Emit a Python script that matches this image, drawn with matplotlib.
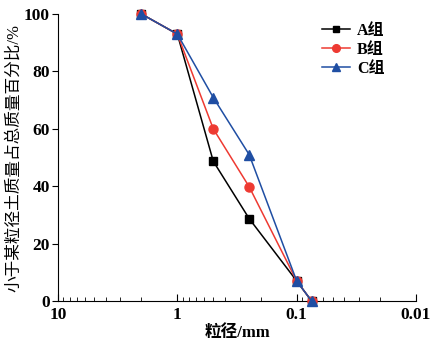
import matplotlib
matplotlib.use("Agg")
import matplotlib.pyplot as plt
from matplotlib.ticker import FixedLocator, LogLocator, NullFormatter

sizes = [2, 1, 0.5, 0.25, 0.1, 0.075]
group_a = [100, 93, 48.7, 28.7, 7.0, 0]
group_b = [100, 93, 60.0, 39.8, 7.0, 0]
group_c = [100, 93, 70.9, 51.0, 7.0, 0]
labels = ["A组", "B组", "C组"]
xticks = [10, 1, 0.1, 0.01]
xtick_labels = ["10", "1", "0.1", "0.01"]
yticks = [0, 20, 40, 60, 80, 100]

fam = ["Liberation Serif", "Noto Sans CJK SC"]
plt.rcParams['font.family'] = fam

fig = plt.figure(figsize=(4.43, 3.5), dpi=100)
ax = fig.add_axes([0.131, 0.14, 0.808, 0.82])

ax.plot(sizes, group_a, color="black", marker="s", markersize=5.5, lw=1.1, label=labels[0], clip_on=False, zorder=3)
ax.plot(sizes, group_b, color="#ee3a32", marker="o", markersize=6.5, lw=1.1, label=labels[1], clip_on=False, zorder=4)
ax.plot(sizes, group_c, color="#1f4ea3", marker="^", markersize=6.5, lw=1.1, label=labels[2], clip_on=False, zorder=5)

ax.set_xscale("log")
ax.set_xlim(10, 0.01)
ax.set_ylim(0, 100)
ax.xaxis.set_major_locator(FixedLocator(xticks))
ax.set_xticklabels(xtick_labels)
ax.xaxis.set_minor_locator(LogLocator(base=10, subs=range(2, 10)))
ax.xaxis.set_minor_formatter(NullFormatter())
ax.set_yticks(yticks)

for s in ["top", "right"]:
    ax.spines[s].set_visible(False)
ax.tick_params(axis="x", which="major", direction="in", length=5, labelsize=12.5, pad=4)
ax.tick_params(axis="x", which="minor", direction="in", length=3)
ax.tick_params(axis="y", which="major", direction="out", length=4, labelsize=12.5, pad=2)
for t in ax.get_xticklabels() + ax.get_yticklabels():
    t.set_fontweight("bold")

ax.set_xlabel("粒径/mm", fontsize=12, fontweight="bold", labelpad=2)
ax.set_ylabel("小于某粒径土质量占总质量百分比/%", fontsize=12, labelpad=1)

leg = ax.legend(loc="upper left", bbox_to_anchor=(0.737, 0.97), frameon=False,
                borderaxespad=0, borderpad=0, markerscale=0.85,
                fontsize=11.5, handlelength=1.75, handletextpad=0.45, labelspacing=0.2)
for t in leg.get_texts():
    t.set_fontweight("bold")

fig.savefig("out.png", dpi=100)
